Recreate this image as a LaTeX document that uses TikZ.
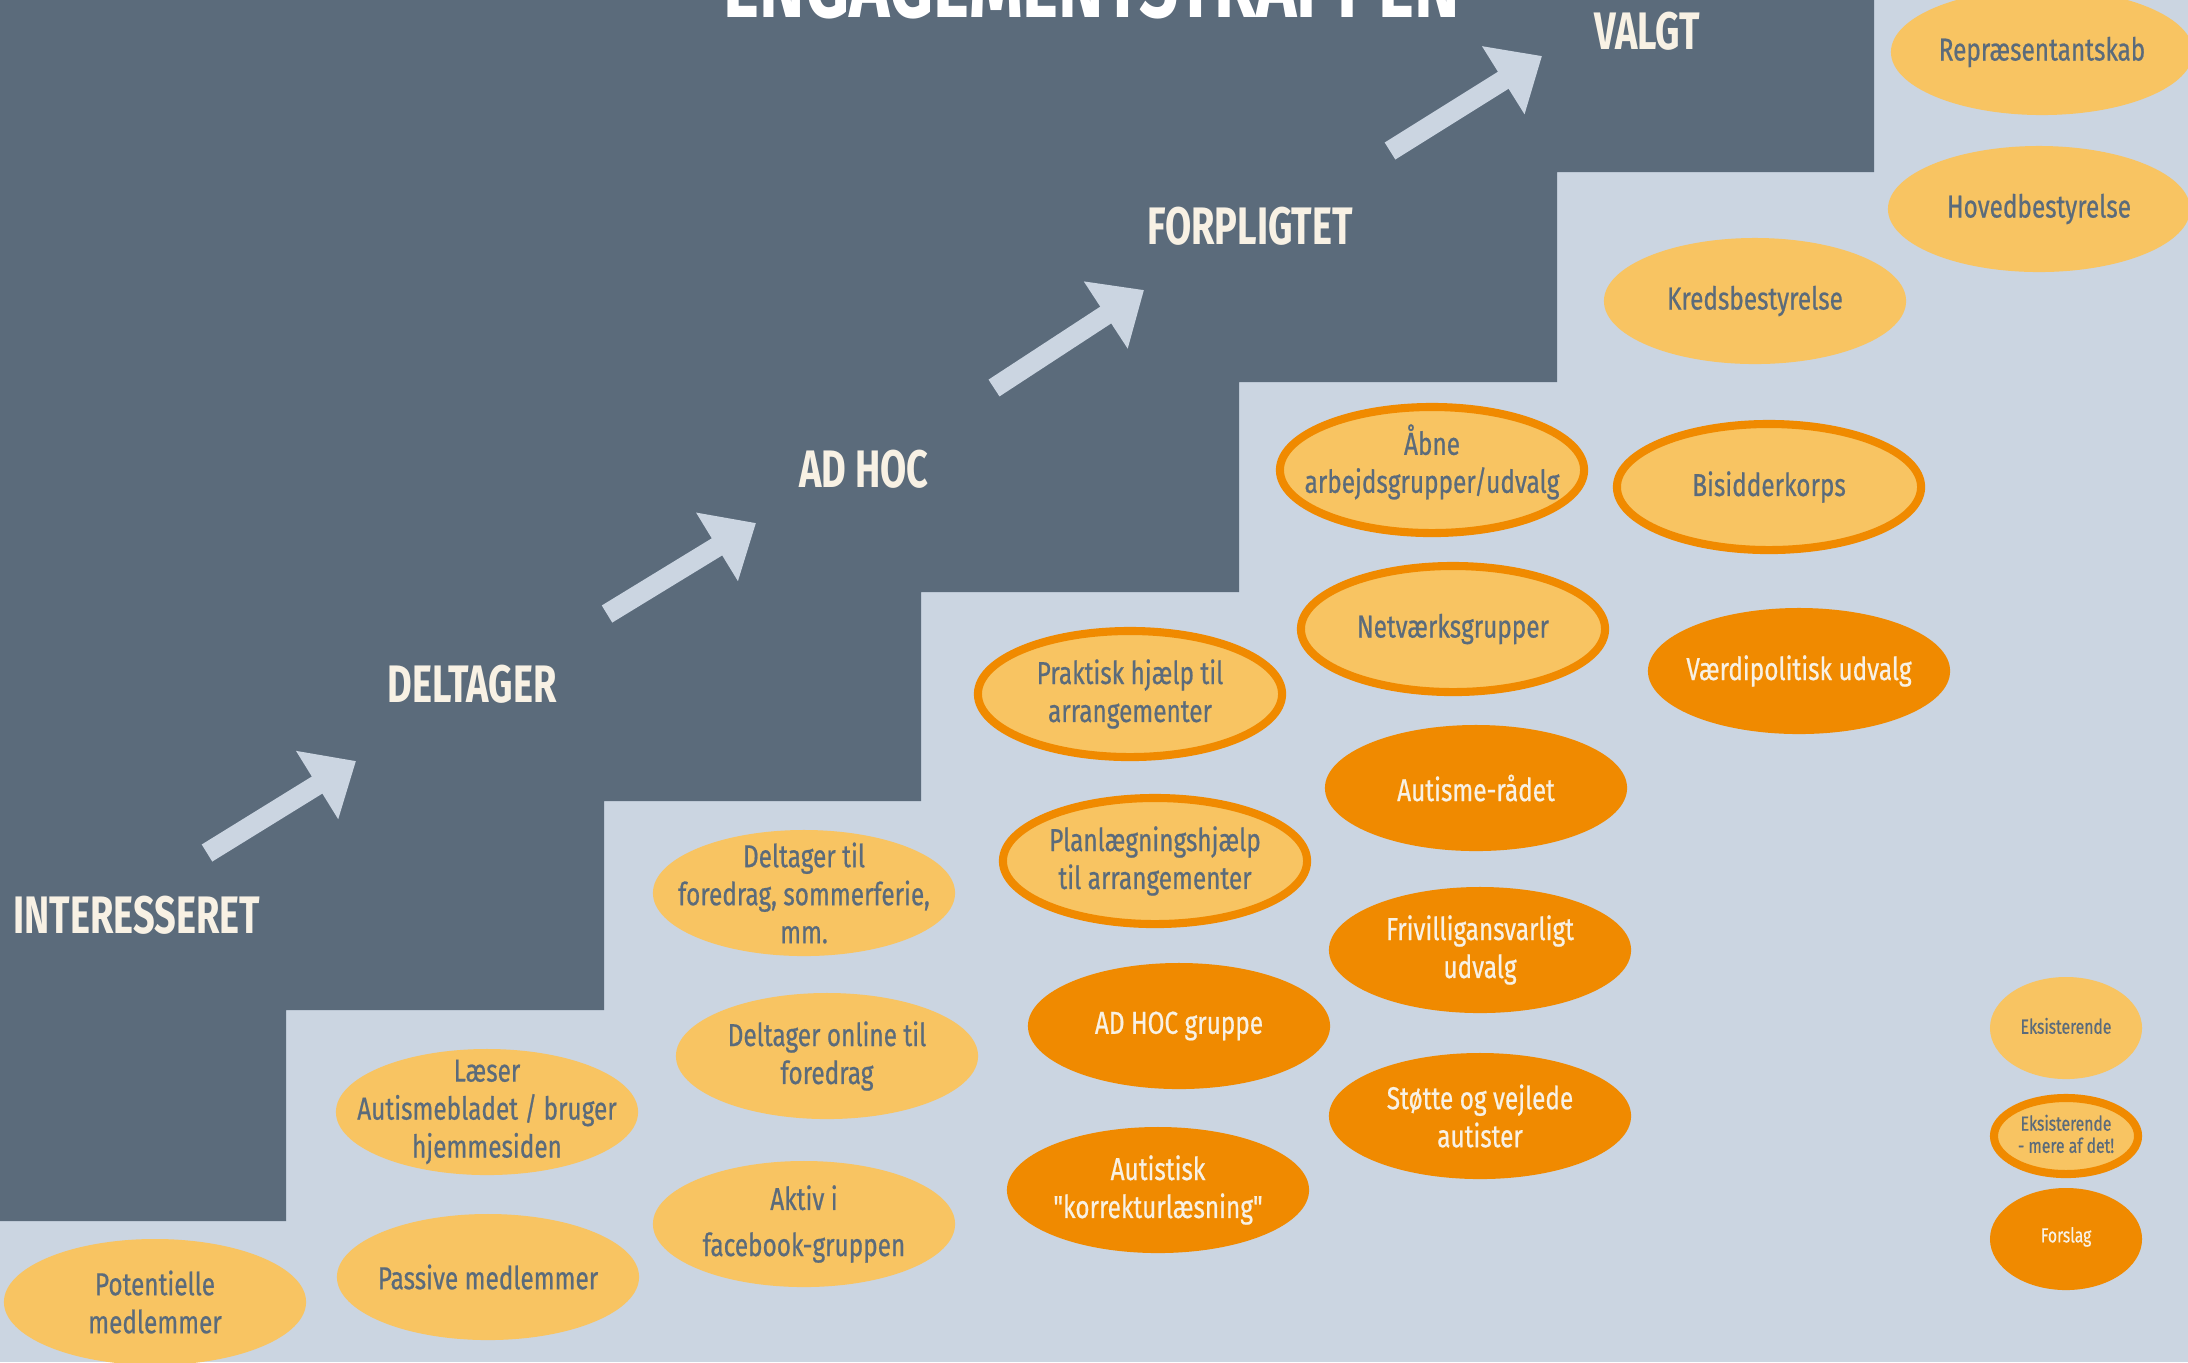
\documentclass[tikz,border=0pt]{standalone}
\usepackage{fontspec}
\setmainfont{Fira Sans}[FakeStretch=0.78]
\newfontfamily\bodyfont{Fira Sans}[FakeStretch=0.77,FakeBold=0.6]
\newfontfamily\headfont{Fira Sans}[FakeStretch=0.72]
\usetikzlibrary{shapes.geometric,arrows.meta}
\definecolor{slate}{HTML}{5B6B7B}
\definecolor{pale}{HTML}{CBD5E1}
\definecolor{yel}{HTML}{F8C462}
\definecolor{org}{HTML}{F08A00}
\definecolor{cream}{HTML}{F8F1E4}
\tikzset{
 blob/.style={ellipse, inner sep=0pt, minimum width=3.02cm, minimum height=1.26cm},
 yfill/.style={blob, fill=yel},
 ofill/.style={blob, fill=org},
 oring/.style={blob, fill=yel, draw=org, line width=2.3pt, minimum width=3.04cm},
 dtxt/.style={text=slate, align=center, inner sep=0pt, yshift=0pt, font=\bodyfont\fontsize{9}{10.8}\selectfont},
 ltxt/.style={dtxt, text=cream},
 legsize/.style={minimum width=1.52cm, minimum height=1.02cm},
 legdtxt/.style={dtxt, yshift=0.6pt, font=\bodyfont\fontsize{5.8}{6.3}\selectfont},
 legltxt/.style={ltxt, yshift=0.6pt, font=\bodyfont\fontsize{5.8}{6.3}\selectfont},
 head/.style={text=cream, inner sep=0pt, font=\headfont\bfseries\fontsize{15}{18}\selectfont},
 uparrow/.style={draw=pale, line width=5.7pt, -{Triangle[length=13pt,width=22pt]}},
}
\newcommand\myblob[5]{\node[#3] (#1) at (#2) {}; \node[#4] (#1t) at (#1) {#5};}
\begin{document}
\begin{tikzpicture}[x=0.01cm,y=-0.01cm]
\useasboundingbox (0,0) rectangle (2188,1362);
\clip (0,0) rectangle (2188,1362);
\fill[pale] (0,0) rectangle (2188,1362);
\fill[slate] (0,0) -- (1874,0) -- (1874,172) -- (1557,172) -- (1557,382) -- (1239,382)
  -- (1239,592) -- (921,592) -- (921,801) -- (604,801) -- (604,1010) -- (286,1010)
  -- (286,1221) -- (0,1221) -- cycle;
% arrows
\coordinate (a1s) at (207,853); \coordinate (a1e) at (356,761);
\coordinate (a2s) at (607,614); \coordinate (a2e) at (756,523);
\coordinate (a3s) at (994,388); \coordinate (a3e) at (1144,290);
\coordinate (a4s) at (1390,151); \coordinate (a4e) at (1542,56);
\draw[uparrow] (a1s) -- (a1e);
\draw[uparrow] (a2s) -- (a2e);
\draw[uparrow] (a3s) -- (a3e);
\draw[uparrow] (a4s) -- (a4e);
% title and headings
\node[anchor=base, inner sep=0pt, text=white, font=\headfont\bfseries\fontsize{27}{30}\selectfont] (title) at (1092,17) {ENGAGEMENTSTRAPPEN};
\node[head] (h5) at (1647,31) {VALGT};
\node[head] (h4) at (1250,226) {FORPLIGTET};
\node[head] (h3) at (864,469) {AD HOC};
\node[head] (h2) at (472,684) {DELTAGER};
\node[head] (h1) at (137,915) {INTERESSERET};
% ellipses
\myblob{rep}{2042,52}{yfill}{dtxt}{Repræsentantskab}
\myblob{hov}{2039,209}{yfill}{dtxt}{Hovedbestyrelse}
\myblob{kreds}{1755,301}{yfill}{dtxt}{Kredsbestyrelse}
\myblob{aabne}{1432,470}{oring}{dtxt,yshift=2.3pt}{Åbne\\arbejdsgrupper/udvalg}
\myblob{bisid}{1769,487}{oring}{dtxt}{Bisidderkorps}
\myblob{netv}{1453,629}{oring}{dtxt}{Netværksgrupper}
\myblob{vaerdi}{1799,671}{ofill}{ltxt}{Værdipolitisk udvalg}
\myblob{prakt}{1130,694}{oring}{dtxt}{Praktisk hjælp til\\arrangementer}
\myblob{raad}{1476,788}{ofill}{ltxt}{Autisme-rådet}
\myblob{plan}{1155,861}{oring}{dtxt}{Planlægningshjælp\\til arrangementer}
\myblob{delt}{804,893}{yfill}{dtxt}{Deltager til\\foredrag, sommerferie,\\mm.}
\myblob{friv}{1480,950}{ofill}{ltxt}{Frivilligansvarligt\\udvalg}
\myblob{adhocg}{1179,1026}{ofill}{ltxt}{AD HOC gruppe}
\myblob{online}{827,1056}{yfill}{dtxt}{Deltager online til\\foredrag}
\myblob{laeser}{487,1112}{yfill}{dtxt}{Læser\\Autismebladet / bruger\\hjemmesiden}
\myblob{stoette}{1480,1116}{ofill}{ltxt}{Støtte og vejlede\\autister}
\myblob{korrek}{1158,1190}{ofill}{ltxt}{Autistisk\\"korrekturlæsning"}
\myblob{face}{804,1224}{yfill}{dtxt}{Aktiv i\\[2.3pt]facebook-gruppen}
\myblob{passive}{488,1277}{yfill}{dtxt}{Passive medlemmer}
\myblob{pot}{155,1302}{yfill}{dtxt}{Potentielle\\medlemmer}
% legend
\myblob{leg1}{2066,1028}{yfill,legsize}{legdtxt}{Eksisterende}
\myblob{leg2}{2066,1136}{oring,minimum width=1.44cm,minimum height=0.76cm}{legdtxt}{Eksisterende\\- mere af det!}
\myblob{leg3}{2066,1239}{ofill,legsize}{legltxt}{Forslag}
\end{tikzpicture}
\end{document}
